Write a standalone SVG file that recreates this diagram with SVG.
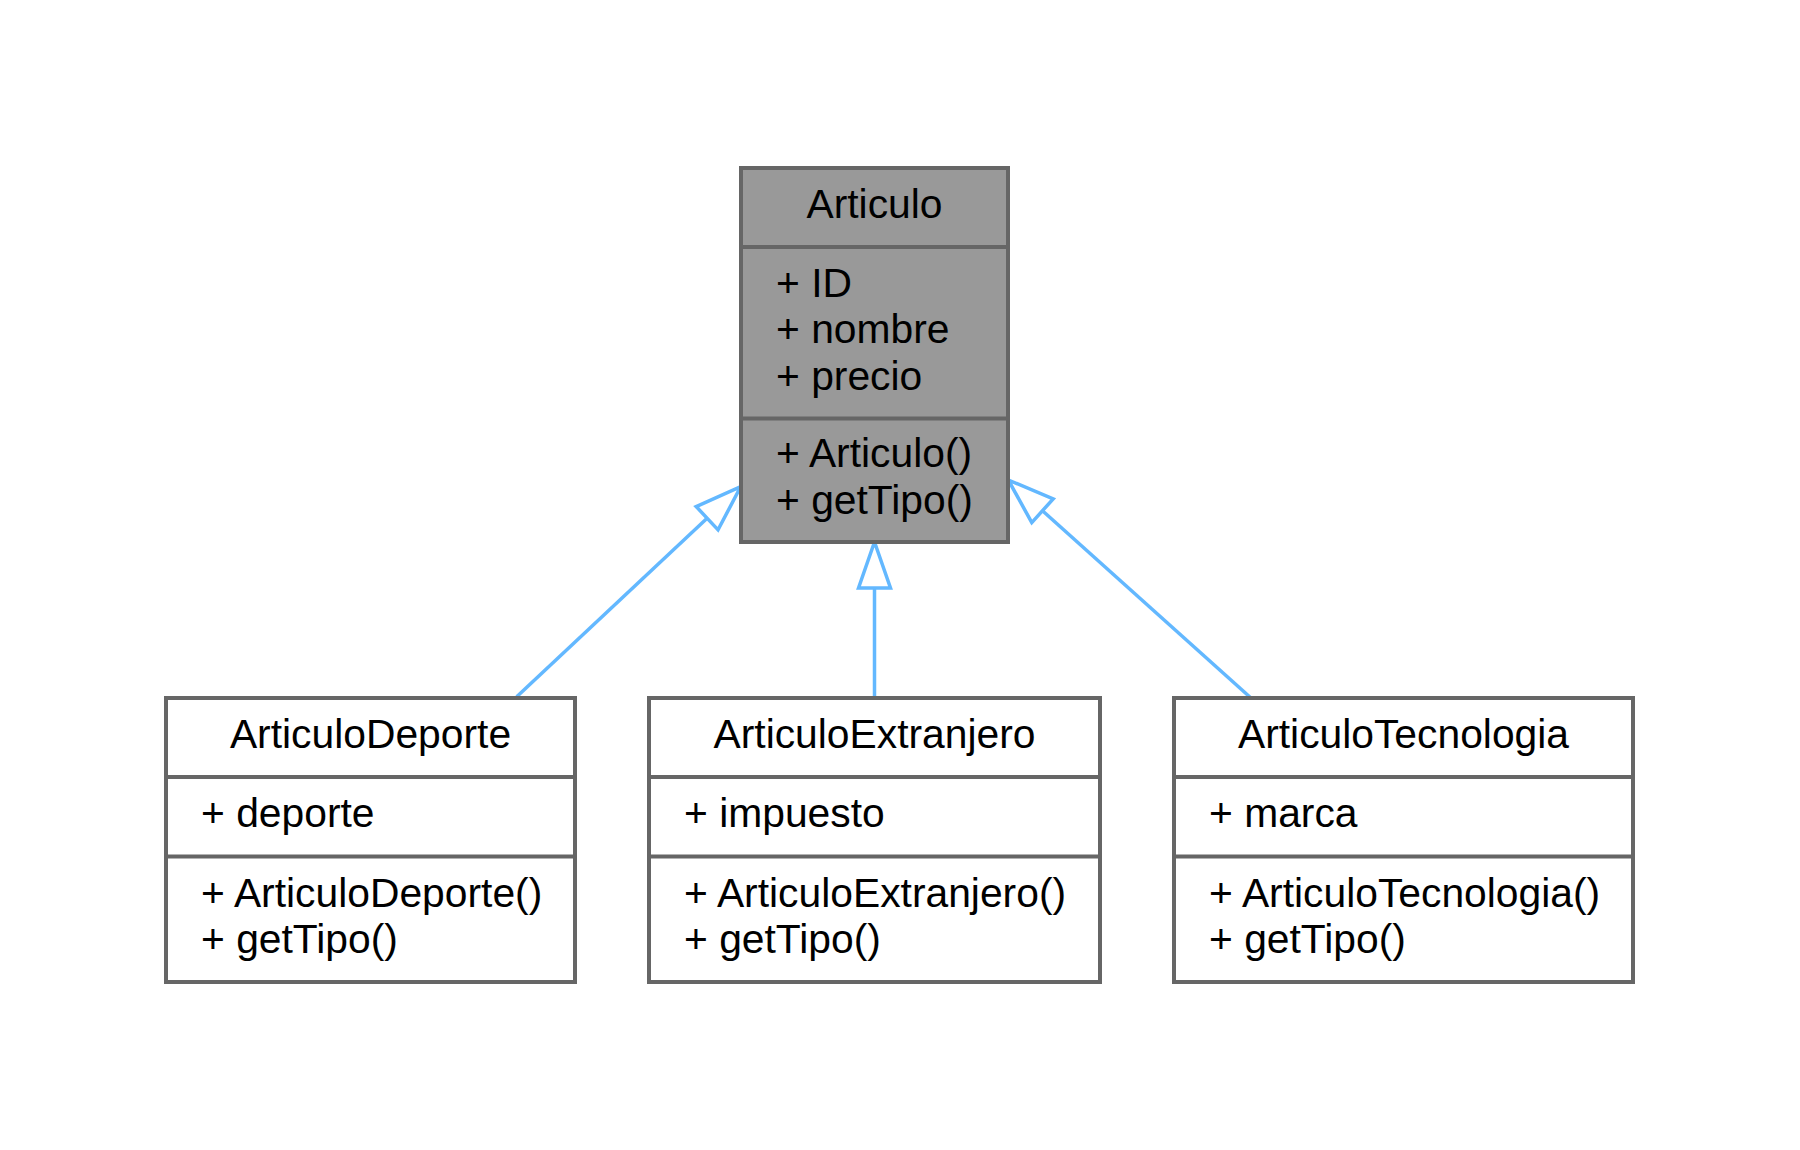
<svg xmlns="http://www.w3.org/2000/svg" width="1800" height="1150" viewBox="0 0 1800 1150">
<style>
.box{stroke:#666666;stroke-width:4;}
.base{fill:#999999;}
.child{fill:#ffffff;}
.div{stroke:#666666;stroke-width:4;}
.t{font-family:"Liberation Sans",Arial,Helvetica,sans-serif;font-size:40.8px;fill:#000000;}
.c{text-anchor:middle;}
.edge{stroke:#63b8ff;stroke-width:3.5;fill:none;}
</style>
<defs>
<marker id="inh" markerUnits="userSpaceOnUse" markerWidth="60" markerHeight="40" refX="0" refY="0" orient="auto" viewBox="-4 -20 56 40" overflow="visible">
<path d="M0,-16 L46,0 L0,16 Z" fill="#ffffff" stroke="#63b8ff" stroke-width="3.5"/>
</marker>
</defs>
<rect width="1800" height="1150" fill="#ffffff"/>
<g id="connectors">
<line class="edge" x1="516.7" y1="696.7" x2="707.1" y2="518.2" marker-end="url(#inh)"/>
<line class="edge" x1="874.5" y1="698" x2="874.5" y2="588" marker-end="url(#inh)"/>
<line class="edge" x1="1250.7" y1="697.7" x2="1042.5" y2="510.7" marker-end="url(#inh)"/>
</g>
<g id="Articulo">
<rect class="box base" x="741" y="168" width="267" height="374"/>
<line class="div" x1="741" y1="247" x2="1008" y2="247"/>
<line class="div" x1="741" y1="418.5" x2="1008" y2="418.5"/>
<text class="t c" x="874.5" y="218">Articulo</text>
<text class="t" x="776" y="296.5">+ ID</text>
<text class="t" x="776" y="343">+ nombre</text>
<text class="t" x="776" y="389.5">+ precio</text>
<text class="t" x="776" y="467">+ Articulo()</text>
<text class="t" x="776" y="513.5">+ getTipo()</text>
</g>
<g id="ArticuloDeporte">
<rect class="box child" x="166" y="698" width="409" height="284"/>
<line class="div" x1="166" y1="777" x2="575" y2="777"/>
<line class="div" x1="166" y1="856.5" x2="575" y2="856.5"/>
<text class="t c" x="370.5" y="748">ArticuloDeporte</text>
<text class="t" x="201" y="826.5">+ deporte</text>
<text class="t" x="201" y="906.5">+ ArticuloDeporte()</text>
<text class="t" x="201" y="953">+ getTipo()</text>
</g>
<g id="ArticuloExtranjero">
<rect class="box child" x="649" y="698" width="451" height="284"/>
<line class="div" x1="649" y1="777" x2="1100" y2="777"/>
<line class="div" x1="649" y1="856.5" x2="1100" y2="856.5"/>
<text class="t c" x="874.5" y="748">ArticuloExtranjero</text>
<text class="t" x="684" y="826.5">+ impuesto</text>
<text class="t" x="684" y="906.5">+ ArticuloExtranjero()</text>
<text class="t" x="684" y="953">+ getTipo()</text>
</g>
<g id="ArticuloTecnologia">
<rect class="box child" x="1174" y="698" width="459" height="284"/>
<line class="div" x1="1174" y1="777" x2="1633" y2="777"/>
<line class="div" x1="1174" y1="856.5" x2="1633" y2="856.5"/>
<text class="t c" x="1403.5" y="748">ArticuloTecnologia</text>
<text class="t" x="1209" y="826.5">+ marca</text>
<text class="t" x="1209" y="906.5">+ ArticuloTecnologia()</text>
<text class="t" x="1209" y="953">+ getTipo()</text>
</g>
</svg>
